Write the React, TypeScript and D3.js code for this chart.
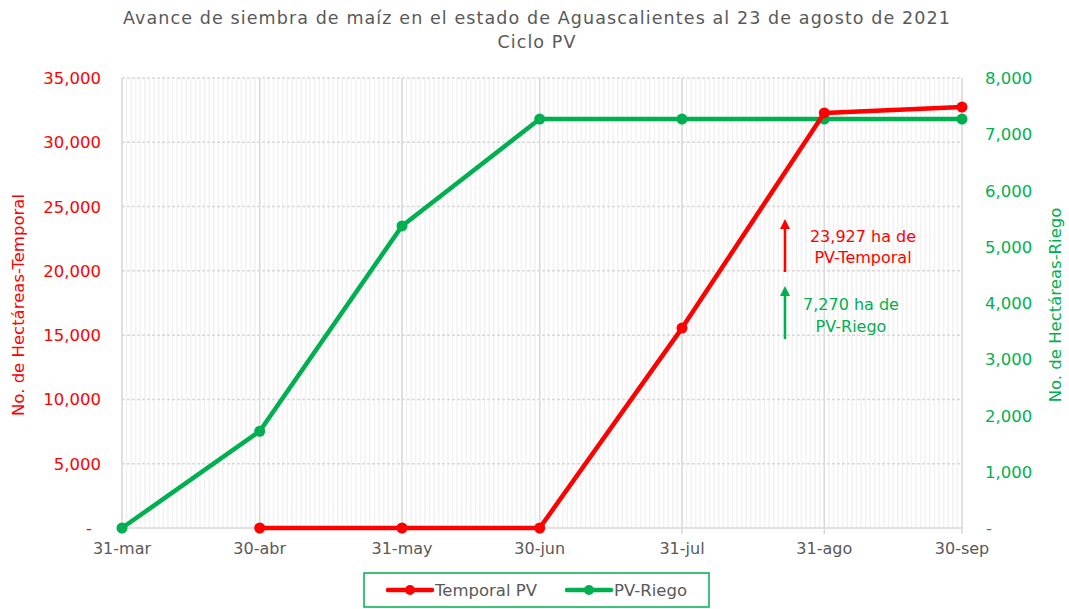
import * as d3 from "d3";

// categories (month-end dates) and series
const dates = ["2021-03-31", "2021-04-30", "2021-05-31", "2021-06-30", "2021-07-31", "2021-08-31", "2021-09-30"];
const tickLabels = ["31-mar", "30-abr", "31-may", "30-jun", "31-jul", "31-ago", "30-sep"];
const temporal: (number | null)[] = [null, 0, 0, 0, 15550, 32280, 32740];
const riego: (number | null)[] = [0, 1720, 5370, 7270, 7270, 7270, 7270];
const leftTicks = [0, 5000, 10000, 15000, 20000, 25000, 30000, 35000];
const rightTicks = [0, 1000, 2000, 3000, 4000, 5000, 6000, 7000, 8000];

const RED = "#ff0000";
const GREEN = "#00b050";
const GRAY = "#595959";
const FONT = "'DejaVu Sans', sans-serif";

const parse = d3.timeParse("%Y-%m-%d");
const fmt = d3.format(",");

const App = () => {
  const W = 1069;
  const H = 609;
  const left = 122;
  const right = 962;
  const top = 78;
  const bottom = 528;

  const days = dates.map((d) => parse(d)!);
  const x = d3.scaleTime().domain([days[0], days[days.length - 1]]).range([left, right]);
  const yL = d3.scaleLinear().domain([0, 35000]).range([bottom, top]);
  const yR = d3.scaleLinear().domain([0, 8000]).range([bottom, top]);

  const allDays = d3.timeDay.range(days[0], d3.timeDay.offset(days[days.length - 1], 1));

  const tData = days.map((d, i) => ({ d, v: temporal[i] })).filter((p) => p.v !== null) as { d: Date; v: number }[];
  const rData = days.map((d, i) => ({ d, v: riego[i] })).filter((p) => p.v !== null) as { d: Date; v: number }[];

  const lineL = d3.line<{ d: Date; v: number }>().x((p) => x(p.d)).y((p) => yL(p.v));
  const lineR = d3.line<{ d: Date; v: number }>().x((p) => x(p.d)).y((p) => yR(p.v));

  return (
    <svg width={W} height={H} style={{ position: "absolute", left: 0, top: 0, background: "#fff" }} fontFamily={FONT}>
      {/* title */}
      <text x={537} y={24} textAnchor="middle" fontSize={17.5} letterSpacing={1.1} fill={GRAY}>
        Avance de siembra de maíz en el estado de Aguascalientes al 23 de agosto de 2021
      </text>
      <text x={537} y={48} textAnchor="middle" fontSize={17.5} letterSpacing={1.1} fill={GRAY}>
        Ciclo PV
      </text>

      {/* daily minor gridlines */}
      <g stroke="#f2f2f2" strokeWidth={1.5}>
        {allDays.map((d, i) => (
          <line key={i} x1={x(d)} x2={x(d)} y1={top} y2={bottom} />
        ))}
      </g>
      {/* horizontal gridlines */}
      <g stroke="#d9d9d9" strokeWidth={1.5} strokeDasharray="3,2">
        {leftTicks.slice(1).map((t) => (
          <line key={t} x1={left} x2={right} y1={yL(t)} y2={yL(t)} />
        ))}
      </g>
      {/* month gridlines */}
      <g stroke="#d9d9d9" strokeWidth={1.5}>
        {days.map((d, i) => (
          <line key={i} x1={x(d)} x2={x(d)} y1={top} y2={bottom + 6} />
        ))}
        <line x1={left} x2={right} y1={bottom} y2={bottom} />
      </g>

      {/* left axis */}
      <g fontSize={16.5} fill={RED} textAnchor="end">
        {leftTicks.map((t) => (
          <text key={t} x={t === 0 ? 92 : 101} y={yL(t) + 6}>
            {t === 0 ? "-" : fmt(t)}
          </text>
        ))}
      </g>
      {/* right axis */}
      <g fontSize={16.5} fill={GREEN} textAnchor="start">
        {rightTicks.map((t) => (
          <text key={t} x={t === 0 ? 986 : 985} y={yR(t) + 6}>
            {t === 0 ? "-" : fmt(t)}
          </text>
        ))}
      </g>
      <text transform="translate(24,305) rotate(-90)" textAnchor="middle" fontSize={16.5} fill={RED}>
        No. de Hectáreas-Temporal
      </text>
      <text transform="translate(1061,305) rotate(-90)" textAnchor="middle" fontSize={16.5} fill={GREEN}>
        No. de Hectáreas-Riego
      </text>

      {/* x axis labels */}
      <g fontSize={16} fill={GRAY} textAnchor="middle">
        {days.map((d, i) => (
          <text key={i} x={x(d)} y={554}>
            {tickLabels[i]}
          </text>
        ))}
      </g>

      {/* series */}
      <path d={lineR(rData)!} fill="none" stroke={GREEN} strokeWidth={4.5} strokeLinejoin="round" />
      {rData.map((p, i) => (
        <circle key={i} cx={x(p.d)} cy={yR(p.v)} r={5.5} fill={GREEN} />
      ))}
      <path d={lineL(tData)!} fill="none" stroke={RED} strokeWidth={4.5} strokeLinejoin="round" />
      {tData.map((p, i) => (
        <circle key={i} cx={x(p.d)} cy={yL(p.v)} r={5.5} fill={RED} />
      ))}

      {/* annotations */}
      <defs>
        <marker id="arR" viewBox="0 0 10 10" refX={5} refY={5} markerWidth={4} markerHeight={4} orient="auto">
          <path d="M0,0 L10,5 L0,10 z" fill={RED} />
        </marker>
        <marker id="arG" viewBox="0 0 10 10" refX={5} refY={5} markerWidth={4} markerHeight={4} orient="auto">
          <path d="M0,0 L10,5 L0,10 z" fill={GREEN} />
        </marker>
      </defs>
      <line x1={785} x2={785} y1={272} y2={224} stroke={RED} strokeWidth={2.5} markerEnd="url(#arR)" />
      <line x1={785} x2={785} y1={339} y2={291} stroke={GREEN} strokeWidth={2.5} markerEnd="url(#arG)" />
      <g fontSize={16} fill={RED} textAnchor="middle">
        <text x={863} y={242}>23,927 ha de</text>
        <text x={863} y={263}>PV-Temporal</text>
      </g>
      <g fontSize={16} fill={GREEN} textAnchor="middle">
        <text x={851} y={310}>7,270 ha de</text>
        <text x={851} y={332}>PV-Riego</text>
      </g>

      {/* legend */}
      <rect x={364} y={573} width={345} height={34} fill="#fff" stroke={GREEN} strokeWidth={1.5} />
      <line x1={388} x2={432} y1={590} y2={590} stroke={RED} strokeWidth={4.5} strokeLinecap="round" />
      <circle cx={410} cy={590} r={5} fill={RED} />
      <text x={435} y={596} fontSize={16.5} fill={GRAY}>Temporal PV</text>
      <line x1={567} x2={611} y1={590} y2={590} stroke={GREEN} strokeWidth={4.5} strokeLinecap="round" />
      <circle cx={589} cy={590} r={5} fill={GREEN} />
      <text x={614} y={596} fontSize={16.5} fill={GRAY}>PV-Riego</text>
    </svg>
  );
};

export default App;
